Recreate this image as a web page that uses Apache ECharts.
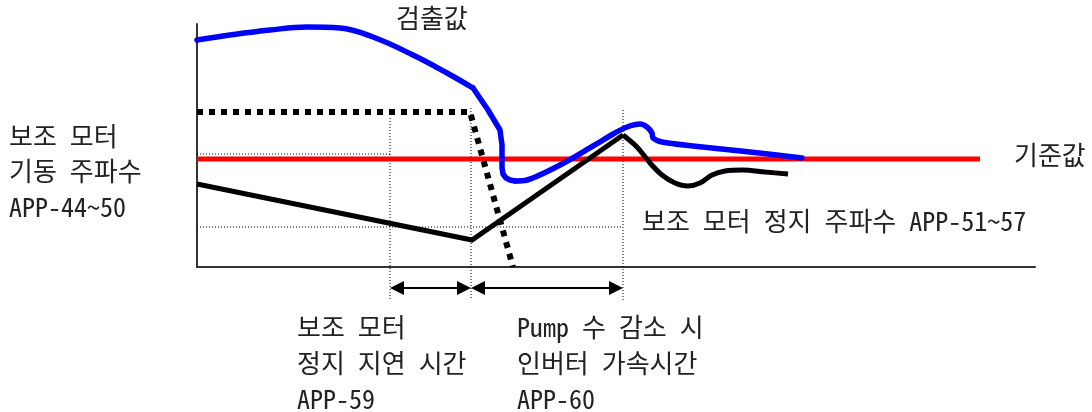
<!DOCTYPE html>
<html><head><meta charset="utf-8">
<script src="https://cdn.jsdelivr.net/npm/echarts@6/dist/echarts.min.js"></script>
<style>html,body{margin:0;padding:0;background:#fff}#c{width:1092px;height:412px}</style>
</head><body><div id="c"></div>
<script>
// Schematic units: x = time, y = level (origin at axis corner)
const detectedTopX = [0,33,73,110,143,176,216,250,276];
const detectedTopY = [227,232,237,240,239,230,212,194,179];
const detectedDropX = [276,291,303,305,305,306,309,313,318];
const detectedDropY = [179,157,137,122,99,93,89,87,86];
const detectedTailX = [318,330,363,396,418,430,443,450,455,456,465,496,553,605];
const detectedTailY = [86,87,102,121,134,140,143,140,134,129,125,121,115,109];
const refX = [0,783];
const refY = [108,108];
const freqX = [0,275,426];
const freqY = [83,27,132];
const settleX = [426,440,453,465,478,491,503,515,528,546,568,591];
const settleY = [132,120,104,92,84,81,84,92,96,97,95,93];
const auxX = [0,273,316];
const auxY = [155,155,0];
const guides = [
  [[0,113],[193,113]],
  [[193,149],[193,-33]],
  [[274,159],[274,-33]],
  [[0,40],[426,40]],
  [[426,157],[426,-33]]
];
const spans = [[193,274,-21],[274,426,-21]];
const labels = {
  detected: '검출값', reference: '기준값',
  startFreq: ['보조 모터','기동 주파수','APP-44~50'],
  stopFreq: '보조 모터 정지 주파수 APP-51~57',
  delay: ['보조 모터','정지 지연 시간','APP-59'],
  accel: ['Pump 수 감소 시','인버터 가속시간','APP-60']
};
const zip = (xs, ys) => xs.map((x, i) => [x, ys[i]]);
const FONT = "'Noto Sans Mono CJK KR','DejaVu Sans Mono','Noto Sans CJK KR',monospace";
const txt = (t, x, y) => ({type:'text', x, y, silent:true, style:{text:t, fontSize:26, fontFamily:FONT, fill:'#222', verticalAlign:'middle'}});

const series = [];
guides.forEach(g => series.push({type:'line', data:g, symbol:'none', clip:false, silent:true,
  lineStyle:{color:'#000', width:1, type:[1,2]}, z:1}));
series.push({type:'line', data:zip(refX, refY), symbol:'none', clip:false, lineStyle:{color:'#ff0000', width:5}, z:2});
series.push({type:'line', data:zip(freqX, freqY), symbol:'none', clip:false, lineStyle:{color:'#000', width:5, join:'miter'}, z:3});
series.push({type:'line', data:zip(settleX, settleY), symbol:'none', smooth:0.3, clip:false, lineStyle:{color:'#000', width:5, cap:'butt'}, z:3});
series.push({type:'line', data:zip(auxX, auxY), symbol:'none', clip:false, lineStyle:{color:'#000', width:6, type:[6,6]}, z:4});
const blue = {color:'#0000ff', width:5.5, join:'round', cap:'round'};
series.push({type:'line', data:zip(detectedTopX, detectedTopY), symbol:'none', smooth:0.4, clip:false, lineStyle:blue, z:5});
series.push({type:'line', data:zip(detectedDropX, detectedDropY), symbol:'none', clip:false, lineStyle:blue, z:5});
series.push({type:'line', data:zip(detectedTailX, detectedTailY), symbol:'none', smooth:0.3, clip:false, lineStyle:blue, z:5});
series.push({type:'custom', data:spans, clip:false, encode:{x:[0,1], y:2}, z:6,
  renderItem:function(params, api){
    const a = api.coord([api.value(0), api.value(2)]);
    const b = api.coord([api.value(1), api.value(2)]);
    const L = 14, H = 7;
    return {type:'group', children:[
      {type:'line', shape:{x1:a[0]+L, y1:a[1], x2:b[0]-L, y2:b[1]}, style:{stroke:'#000', lineWidth:2}},
      {type:'polygon', shape:{points:[[a[0],a[1]],[a[0]+L,a[1]-H],[a[0]+L,a[1]+H]]}, style:{fill:'#000'}},
      {type:'polygon', shape:{points:[[b[0],b[1]],[b[0]-L,b[1]-H],[b[0]-L,b[1]+H]]}, style:{fill:'#000'}}
    ]};
  }});

const chart = echarts.init(document.getElementById('c'), null, {renderer:'canvas'});
chart.setOption({
  animation:false,
  grid:{left:197, top:24, width:838, height:243},
  xAxis:{type:'value', min:0, max:838, axisLine:{show:true, onZero:false, lineStyle:{color:'#333', width:2}}, axisTick:{show:false}, axisLabel:{show:false}, splitLine:{show:false}},
  yAxis:{type:'value', min:0, max:243, axisLine:{show:true, onZero:false, lineStyle:{color:'#333', width:2}}, axisTick:{show:false}, axisLabel:{show:false}, splitLine:{show:false}},
  series:series,
  graphic:[
    txt(labels.detected, 396, 18),
    txt(labels.reference, 1014, 155),
    txt(labels.startFreq[0], 9, 136), txt(labels.startFreq[1], 9, 171), txt(labels.startFreq[2], 9, 207),
    txt(labels.stopFreq, 642, 221),
    txt(labels.delay[0], 297, 327), txt(labels.delay[1], 297, 363), txt(labels.delay[2], 297, 399),
    txt(labels.accel[0], 517, 327), txt(labels.accel[1], 517, 363), txt(labels.accel[2], 517, 399)
  ]
});
</script></body></html>
